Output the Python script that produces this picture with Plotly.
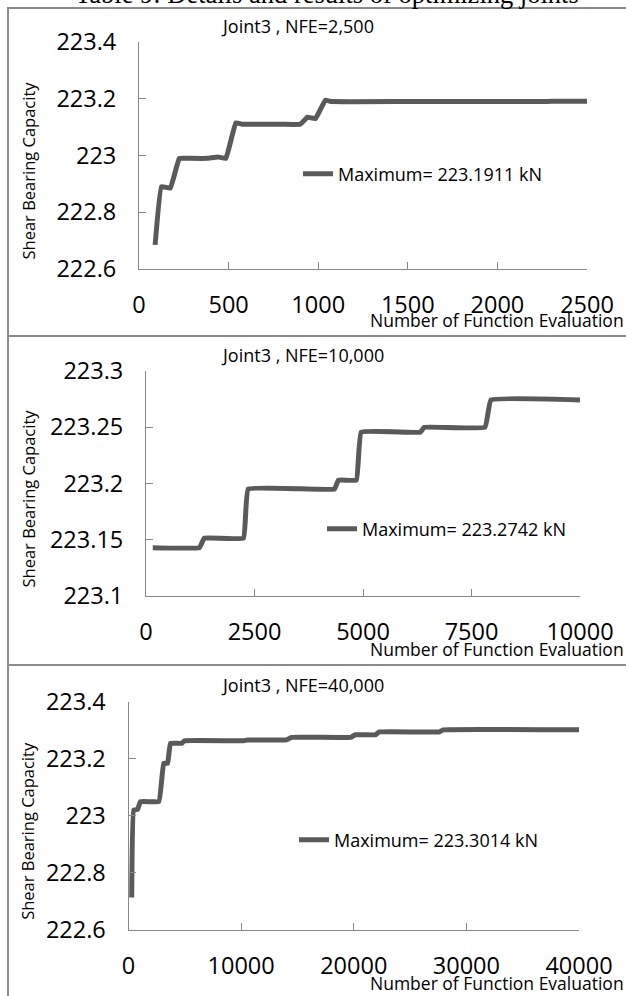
import plotly.graph_objects as go

W, H = 626, 996

# Joint3, NFE=2,500
nfe_2500 = [90, 125, 175, 225, 275, 380, 440, 485, 540, 580, 700, 800, 900, 940, 985, 1040, 1075,
            1500, 2000, 2260, 2300, 2500]
cap_2500 = [222.685, 222.89, 222.885, 222.99, 222.99, 222.99, 222.995, 222.99, 223.115, 223.11, 223.11,
            223.11, 223.11, 223.135, 223.13, 223.195, 223.19, 223.19, 223.19, 223.19, 223.1911, 223.1911]

# Joint3, NFE=10,000
nfe_10000 = [156, 1233, 1343, 2245, 2355, 4342, 4434, 4848, 4959, 6320, 6412, 7810, 7948, 10000]
cap_10000 = [223.143, 223.143, 223.1515, 223.1515, 223.195, 223.195, 223.203, 223.203, 223.2456, 223.2456,
             223.25, 223.25, 223.2742, 223.2742]

# Joint3, NFE=40,000
nfe_40000 = [284, 461, 816, 1064, 2695, 3121, 3475, 3723, 4716, 4965, 10213, 10567, 14043, 14468, 19716,
             20142, 21915, 22270, 27589, 27943, 40000]
cap_40000 = [222.714, 223.02, 223.023, 223.05, 223.05, 223.184, 223.184, 223.254, 223.254, 223.263, 223.263,
             223.266, 223.266, 223.275, 223.275, 223.284, 223.284, 223.294, 223.294, 223.3014, 223.3014]

titles = ['Joint3 , NFE=2,500', 'Joint3 , NFE=10,000', 'Joint3 , NFE=40,000']
maxima = ['Maximum= 223.1911 kN', 'Maximum= 223.2742 kN', 'Maximum= 223.3014 kN']
x_ranges = [[0, 2500], [0, 10000], [0, 40000]]
x_dticks = [500, 2500, 10000]
y_ranges = [[222.6, 223.4], [223.1, 223.3], [222.6, 223.4]]
y_dticks = [0.2, 0.05, 0.2]

series = [(nfe_2500, cap_2500), (nfe_10000, cap_10000), (nfe_40000, cap_40000)]

# pixel boxes of each panel: plot area left/right/top/bottom, panel top/bottom
boxes = [
    dict(l=139, r=587, t=42, b=269, top=8, bot=336, leg=(298, 174), title=(297, 26), xt=320),
    dict(l=146, r=580, t=371, b=596, top=336, bot=665, leg=(322, 529), title=(302, 355), xt=649),
    dict(l=128.5, r=579, t=701.7, b=930, top=665, bot=1000, leg=(294, 840), title=(302, 685), xt=983),
]

FONT = 'Open Sans'
LINE = '#5a5a5a'
AXIS = '#878787'

fig = go.Figure()
layout = dict(width=W, height=H, margin=dict(l=0, r=0, t=0, b=0, autoexpand=False), autosize=False,
              paper_bgcolor='white', plot_bgcolor='white', font=dict(family=FONT, color='black'),
              annotations=[], shapes=[])

for i, (xs, ys) in enumerate(series):
    n = '' if i == 0 else str(i + 1)
    b = boxes[i]
    leg = 'legend' + n
    fig.add_trace(go.Scatter(x=xs, y=ys, mode='lines', name=maxima[i],
                             line=dict(color=LINE, width=5, shape='spline', smoothing=0.25),
                             xaxis='x' + n, yaxis='y' + n, legend=leg, showlegend=True))

    layout['xaxis' + n] = dict(domain=[b['l'] / W, b['r'] / W], range=x_ranges[i], dtick=x_dticks[i],
                               tick0=0, anchor='y' + n, showgrid=False, zeroline=False, showline=True,
                               linecolor=AXIS, linewidth=1, ticks='inside', ticklen=7, tickcolor=AXIS,
                               tickformat='d', tickfont=dict(size=23.5), ticklabelstandoff=15)
    layout['yaxis' + n] = dict(domain=[1 - b['b'] / H, 1 - b['t'] / H], range=y_ranges[i], dtick=y_dticks[i],
                               anchor='x' + n, showgrid=False, zeroline=False, showline=True,
                               linecolor=AXIS, linewidth=1, ticks='inside', ticklen=7, tickcolor=AXIS,
                               tickfont=dict(size=23.5), ticklabelstandoff=17)
    layout[leg] = dict(x=b['leg'][0] / W, y=1 - b['leg'][1] / H, xanchor='left', yanchor='middle',
                       bgcolor='rgba(0,0,0,0)', font=dict(size=18, family=FONT), itemwidth=30)

    layout['annotations'] += [
        dict(text=titles[i], x=b['title'][0] / W, y=1 - b['title'][1] / H, xref='paper', yref='paper',
             showarrow=False, xanchor='center', yanchor='middle', font=dict(size=18)),
        dict(text='Shear Bearing Capacity', x=28 / W, y=1 - (b['t'] + b['b'] + 30) / 2 / H,
             xref='paper', yref='paper', showarrow=False, textangle=-90, xanchor='center',
             yanchor='middle', font=dict(size=16.5)),
        dict(text='Number of Function Evaluation', x=1, y=1 - b['xt'] / H, xref='paper', yref='paper',
             showarrow=False, xanchor='right', yanchor='middle', font=dict(size=17.5)),
    ]
    layout['shapes'].append(dict(type='rect', xref='paper', yref='paper', x0=8 / W, x1=1.02,
                                 y0=1 - b['bot'] / H, y1=1 - b['top'] / H,
                                 line=dict(color='#8c8c8c', width=2)))

# caption of the table above, cut off by the page edge
layout['annotations'].append(dict(text='Table 9: Details and results of optimizing joints', x=73 / W, y=1 - 11 / H,
                                  xref='paper', yref='paper', showarrow=False, xanchor='left',
                                  yanchor='bottom', font=dict(family='Liberation Serif', size=26.5)))

fig.update_layout(**layout)
# the page is exactly the figure size, so drop the default body margin
fig.write_html('out.html', config={'displayModeBar': False},
               post_script="document.body.style.margin = '0';")
